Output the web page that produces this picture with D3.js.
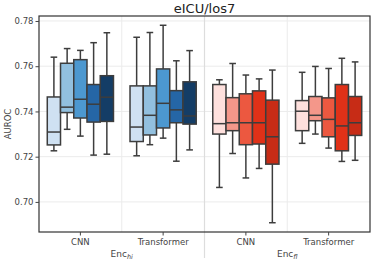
<!DOCTYPE html>
<html>
<head>
<meta charset="utf-8">
<script src="https://cdn.jsdelivr.net/npm/d3@7"></script>
<style>
  body { margin: 0; background: #fff; }
  svg { font-family: "DejaVu Sans", sans-serif; }
</style>
</head>
<body>
<div id="chart"></div>
<script>
// data: [whisker low, q1, median, q3, whisker high]
var categories = ["CNN", "Transformer", "CNN", "Transformer"];
var encoders = ["hi", "fl"];
var cnnHi = [
  [0.7226, 0.7252, 0.7309, 0.7464, 0.7640],
  [0.7321, 0.7395, 0.7419, 0.7613, 0.7678],
  [0.7291, 0.7371, 0.7454, 0.7629, 0.7670],
  [0.7207, 0.7353, 0.7432, 0.7519, 0.7704],
  [0.7211, 0.7356, 0.7463, 0.7558, 0.7748]
];
var transHi = [
  [0.7204, 0.7267, 0.7331, 0.7513, 0.7728],
  [0.7253, 0.7296, 0.7383, 0.7513, 0.7749],
  [0.7282, 0.7327, 0.7436, 0.7588, 0.7781],
  [0.7180, 0.7350, 0.7407, 0.7492, 0.7624],
  [0.7230, 0.7344, 0.7380, 0.7531, 0.7669]
];
var cnnFl = [
  [0.7064, 0.7300, 0.7346, 0.7519, 0.7540],
  [0.7214, 0.7315, 0.7350, 0.7461, 0.7612],
  [0.7106, 0.7253, 0.7350, 0.7478, 0.7561],
  [0.7148, 0.7256, 0.7350, 0.7491, 0.7544],
  [0.6908, 0.7167, 0.7288, 0.7450, 0.7583]
];
var transFl = [
  [0.7259, 0.7315, 0.7401, 0.7448, 0.7573],
  [0.7300, 0.7359, 0.7383, 0.7466, 0.7599],
  [0.7238, 0.7288, 0.7365, 0.7460, 0.7590],
  [0.7179, 0.7226, 0.7336, 0.7519, 0.7635],
  [0.7184, 0.7294, 0.7350, 0.7466, 0.7619]
];
var yTicks = [0.70, 0.72, 0.74, 0.76, 0.78];
var blues = ["#cfe1f2", "#92c0df", "#4c98d0", "#2566a6", "#143d66"];
var reds = ["#fee0dd", "#f4978a", "#ec5840", "#e03118", "#c72c16"];

(function () {
  var groups = [cnnHi, transHi, cnnFl, transFl];
  var W = 374, H = 263;
  var mLeft = 39, mRight = 370, mTop = 16, mBottom = 232;

  var svg = d3.select("#chart").append("svg")
    .attr("width", W)
    .attr("height", H);

  var x = d3.scaleBand().domain(d3.range(4)).range([mLeft, mRight]).padding(0);
  var inner = d3.scaleBand().domain(d3.range(5))
    .range([x.bandwidth() * 0.1, x.bandwidth() * 0.9]).padding(0);
  var y = d3.scaleLinear().domain([0.6867, 0.7822]).range([mBottom, mTop]);

  // grid
  svg.append("g").selectAll("line")
    .data(yTicks).enter().append("line")
    .attr("x1", mLeft).attr("x2", mRight)
    .attr("y1", d => y(d)).attr("y2", d => y(d))
    .attr("stroke", "#ebebeb").attr("stroke-width", 1);
  svg.append("g").selectAll("line")
    .data([1, 3]).enter().append("line")
    .attr("x1", d => x(d)).attr("x2", d => x(d))
    .attr("y1", mTop).attr("y2", mBottom)
    .attr("stroke", "#ebebeb").attr("stroke-width", 1);
  // divider between encoders, runs below axis
  svg.append("line")
    .attr("x1", x(2)).attr("x2", x(2))
    .attr("y1", mTop).attr("y2", 258)
    .attr("stroke", "#dddddd").attr("stroke-width", 1.2);

  var stroke = "#3d3d3d";
  groups.forEach(function (g, gi) {
    var colors = gi < 2 ? blues : reds;
    var cont = svg.append("g").attr("transform", "translate(" + x(gi) + ",0)");
    cont.selectAll("g")
      .data(g).enter().append("g")
      .each(function (d, i) {
        var sel = d3.select(this);
        var bx = inner(i), bw = inner.bandwidth(), cx = bx + bw / 2;
        // whiskers
        sel.append("line").attr("x1", cx).attr("x2", cx)
          .attr("y1", y(d[0])).attr("y2", y(d[1]))
          .attr("stroke", stroke).attr("stroke-width", 1.5);
        sel.append("line").attr("x1", cx).attr("x2", cx)
          .attr("y1", y(d[3])).attr("y2", y(d[4]))
          .attr("stroke", stroke).attr("stroke-width", 1.5);
        // caps
        [d[0], d[4]].forEach(function (v) {
          sel.append("line").attr("x1", cx - bw / 4).attr("x2", cx + bw / 4)
            .attr("y1", y(v)).attr("y2", y(v))
            .attr("stroke", stroke).attr("stroke-width", 1.5);
        });
        sel.append("rect")
          .attr("x", bx).attr("width", bw)
          .attr("y", y(d[3])).attr("height", y(d[1]) - y(d[3]))
          .attr("fill", colors[i])
          .attr("stroke", stroke).attr("stroke-width", 1.5);
        sel.append("line").attr("x1", bx).attr("x2", bx + bw)
          .attr("y1", y(d[2])).attr("y2", y(d[2]))
          .attr("stroke", stroke).attr("stroke-width", 1.5);
      });
  });

  // frame
  svg.append("rect")
    .attr("x", mLeft).attr("y", mTop)
    .attr("width", mRight - mLeft).attr("height", mBottom - mTop)
    .attr("fill", "none").attr("stroke", "#333").attr("stroke-width", 1.2);

  // y axis
  var yAxis = svg.append("g")
    .attr("transform", "translate(" + mLeft + ",0)")
    .call(d3.axisLeft(y).tickValues(yTicks).tickFormat(d3.format(".2f")).tickSize(3.5).tickPadding(2));
  yAxis.select(".domain").remove();
  yAxis.selectAll("text").attr("font-size", 8.5).attr("fill", "#444").attr("font-family", "DejaVu Sans");
  yAxis.selectAll("line").attr("stroke", "#444");

  // x axis
  var xAxis = svg.append("g")
    .attr("transform", "translate(0," + mBottom + ")")
    .call(d3.axisBottom(x).tickFormat(i => categories[i]).tickSize(3.5).tickPadding(3));
  xAxis.select(".domain").remove();
  xAxis.selectAll("text").attr("font-size", 8.5).attr("fill", "#444").attr("font-family", "DejaVu Sans");
  xAxis.selectAll("line").attr("stroke", "#444");

  // encoder labels
  encoders.forEach(function (e, i) {
    var cx = (x(2 * i) + x(2 * i + 1) + x.bandwidth()) / 2;
    var t = svg.append("text")
      .attr("x", cx).attr("y", 257)
      .attr("text-anchor", "middle")
      .attr("font-size", 9).attr("fill", "#444");
    t.append("tspan").text("Enc");
    t.append("tspan").attr("font-size", 6.5).attr("font-style", "italic").attr("dy", 2).text(e);
  });

  svg.append("text")
    .attr("transform", "translate(11," + ((mTop + mBottom) / 2) + ") rotate(-90)")
    .attr("text-anchor", "middle")
    .attr("font-size", 8.5).attr("fill", "#444")
    .text("AUROC");

  svg.append("text")
    .attr("x", (mLeft + mRight) / 2).attr("y", 13)
    .attr("text-anchor", "middle")
    .attr("font-size", 13).attr("fill", "#222")
    .text("eICU/los7");
})();
</script>
</body>
</html>
